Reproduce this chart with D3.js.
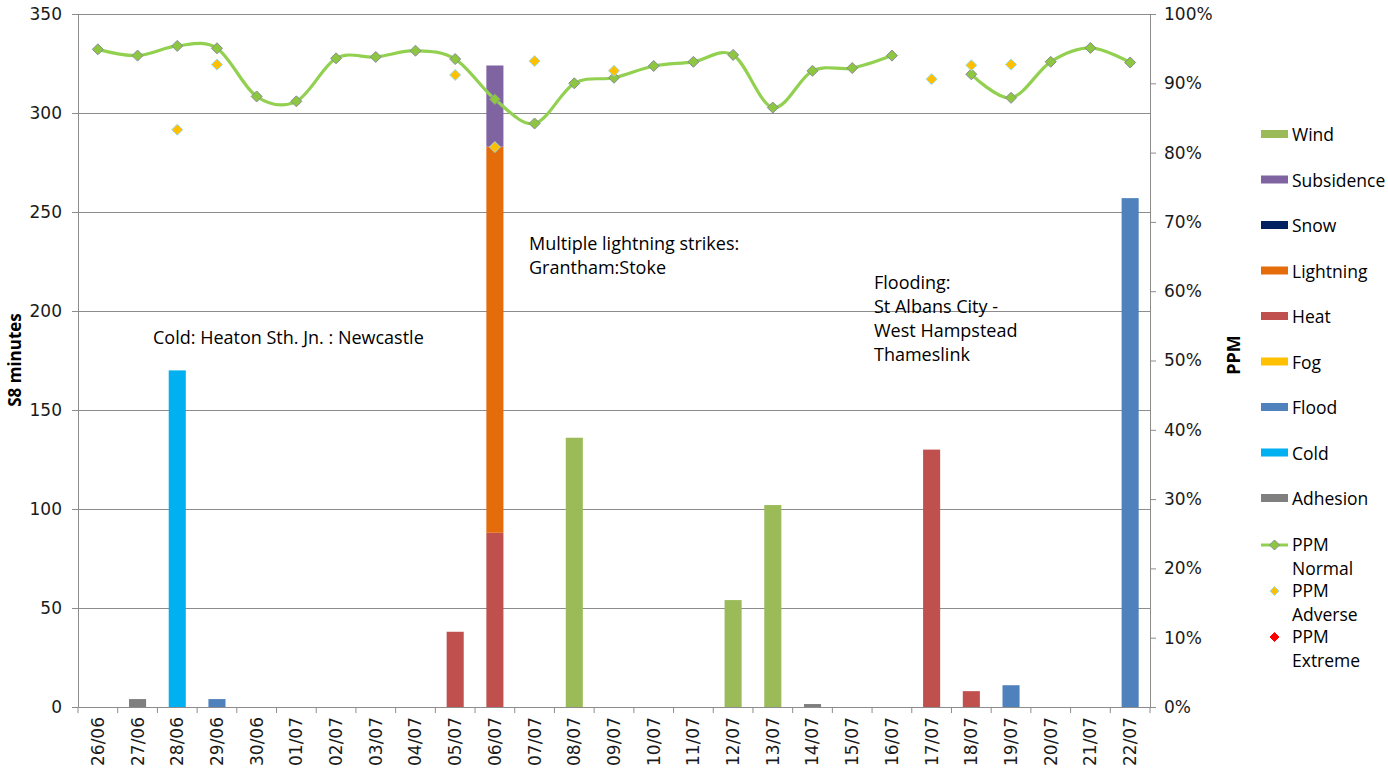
<!DOCTYPE html>
<html><head><meta charset="utf-8">
<script src="https://cdn.jsdelivr.net/npm/d3@7/dist/d3.min.js"></script>
<style>body{margin:0;background:#fff}svg{display:block}</style>
</head><body>
<svg id="c" width="1388" height="773"></svg>
<script>
const dates = ["26/06","27/06","28/06","29/06","30/06","01/07","02/07","03/07","04/07","05/07","06/07","07/07","08/07","09/07","10/07","11/07","12/07","13/07","14/07","15/07","16/07","17/07","18/07","19/07","20/07","21/07","22/07"];
const adhesion   = [0,4,0,0,0,0,0,0,0,0,0,0,0,0,0,0,0,0,1.5,0,0,0,0,0,0,0,0];
const cold       = [0,0,170,0,0,0,0,0,0,0,0,0,0,0,0,0,0,0,0,0,0,0,0,0,0,0,0];
const flood      = [0,0,0,4,0,0,0,0,0,0,0,0,0,0,0,0,0,0,0,0,0,0,0,11,0,0,257];
const fog        = [0,0,0,0,0,0,0,0,0,0,0,0,0,0,0,0,0,0,0,0,0,0,0,0,0,0,0];
const heat       = [0,0,0,0,0,0,0,0,0,38,88,0,0,0,0,0,0,0,0,0,0,130,8,0,0,0,0];
const lightning  = [0,0,0,0,0,0,0,0,0,0,195,0,0,0,0,0,0,0,0,0,0,0,0,0,0,0,0];
const snow       = [0,0,0,0,0,0,0,0,0,0,0,0,0,0,0,0,0,0,0,0,0,0,0,0,0,0,0];
const subsidence = [0,0,0,0,0,0,0,0,0,0,41,0,0,0,0,0,0,0,0,0,0,0,0,0,0,0,0];
const wind       = [0,0,0,0,0,0,0,0,0,0,0,0,136,0,0,0,54,102,0,0,0,0,0,0,0,0,0];
const ppmNormal  = [94.9,94.0,95.4,95.05,88.1,87.4,93.6,93.8,94.7,93.5,87.7,84.2,90.0,90.8,92.5,93.1,94.1,86.5,91.8,92.2,94.0,null,91.3,87.9,93.1,95.1,93.0];
const ppmAdverse = [null,null,83.3,92.7,null,null,null,null,null,91.2,80.8,93.2,null,91.8,null,null,null,null,null,null,null,90.6,92.6,92.7,null,null,null];
const ppmExtreme = dates.map(()=>null);
const leftTicks = [0,50,100,150,200,250,300,350];
const rightTicks = [0,10,20,30,40,50,60,70,80,90,100];

const seriesNames = ["Adhesion","Cold","Flood","Fog","Heat","Lightning","Snow","Subsidence","Wind"];
const seriesData = [adhesion,cold,flood,fog,heat,lightning,snow,subsidence,wind];
const colors = {Adhesion:"#7F7F7F",Cold:"#00B0F0",Flood:"#4F81BD",Fog:"#FFC000",Heat:"#C0504D",Lightning:"#E46C0A",Snow:"#002060",Subsidence:"#8064A2",Wind:"#9BBB59"};

const svg = d3.select("#c");
const L=78, R=1150, T=14, B=707;
const x = d3.scaleBand().domain(dates).range([L,R]);
const yL = d3.scaleLinear().domain([0,350]).range([B,T]);
const yR = d3.scaleLinear().domain([0,100]).range([B,T]);
const tickFont = "'DejaVu Sans', Verdana, sans-serif";
const textFont = "'Open Sans', Lato, sans-serif";
const gridCol = "#8c8c8c";

// gridlines
svg.append("g").selectAll("line").data(leftTicks.filter(d=>d>0)).join("line")
  .attr("x1",L).attr("x2",R).attr("y1",d=>yL(d)).attr("y2",d=>yL(d))
  .attr("stroke",gridCol).attr("stroke-width",1).attr("shape-rendering","crispEdges");

// bars
const table = dates.map((d,i)=>{const o={date:d}; seriesNames.forEach((s,k)=>o[s]=seriesData[k][i]); return o;});
const stack = d3.stack().keys(seriesNames)(table);
const bw = x.bandwidth()*0.43;
svg.append("g").selectAll("g").data(stack).join("g").attr("fill",s=>colors[s.key])
  .selectAll("rect").data(s=>s.filter(p=>p[1]-p[0]>0)).join("rect")
  .attr("x",p=>x(p.data.date)+(x.bandwidth()-bw)/2).attr("width",bw)
  .attr("y",p=>yL(p[1])).attr("height",p=>yL(p[0])-yL(p[1]));

// left axis
const gl = svg.append("g").attr("transform",`translate(${L},0)`)
  .call(d3.axisLeft(yL).tickValues(leftTicks).tickSize(6).tickPadding(10));
// right axis
const gr = svg.append("g").attr("transform",`translate(${R},0)`)
  .call(d3.axisRight(yR).tickValues(rightTicks).tickSize(6).tickPadding(8).tickFormat(d=>d+"%"));
// bottom axis
const gb = svg.append("g").attr("transform",`translate(0,${B})`)
  .call(d3.axisBottom(x).tickSize(0).tickPadding(10));
[gl,gr,gb].forEach(g=>{
  g.select(".domain").attr("stroke",gridCol);
  g.selectAll(".tick line").attr("stroke",gridCol);
  g.selectAll("text").attr("font-family",tickFont).attr("font-size",17).attr("fill","#1a1a1a");
});
gb.selectAll(".tick text").attr("transform","rotate(-90)").attr("text-anchor","end")
  .attr("dx","0").attr("dy","0.35em").attr("x",-10).attr("y",0);
// category boundary ticks
svg.append("g").selectAll("line").data(dates.concat(["__end"])).join("line")
  .attr("x1",d=>d==="__end"?R:x(d)).attr("x2",d=>d==="__end"?R:x(d))
  .attr("y1",B).attr("y2",B+6).attr("stroke",gridCol);

// PPM line
const line = d3.line().defined(d=>d!==null).x((d,i)=>x(dates[i])+x.bandwidth()/2).y(d=>yR(d))
  .curve(d3.curveCardinal.tension(0));
svg.append("path").datum(ppmNormal).attr("d",line).attr("fill","none")
  .attr("stroke","#92D050").attr("stroke-width",3.2);
const diamond = r=>`M0,${-r}L${r},0L0,${r}L${-r},0Z`;
function markers(data, fill, stroke){
  svg.append("g").selectAll("path").data(data.map((v,i)=>({v,i})).filter(d=>d.v!==null)).join("path")
    .attr("d",diamond(5.5)).attr("transform",d=>`translate(${x(dates[d.i])+x.bandwidth()/2},${yR(d.v)})`)
    .attr("fill",fill).attr("stroke",stroke).attr("stroke-width",1);
}
markers(ppmNormal,"#8DC63F","#8a8a9a");
markers(ppmAdverse,"#FFC000","#9DD9E8");
markers(ppmExtreme,"#FF0000","#FF0000");

// axis titles
svg.append("text").attr("transform","translate(21,360) rotate(-90)").attr("text-anchor","middle")
  .attr("font-family",textFont).attr("font-weight","bold").attr("font-size",17).text("S8 minutes");
svg.append("text").attr("transform","translate(1240,355) rotate(-90)").attr("text-anchor","middle")
  .attr("font-family",textFont).attr("font-weight","bold").attr("font-size",18).text("PPM");

// annotations
const notes = [
  {x:153,y:344,lines:["Cold: Heaton Sth. Jn. : Newcastle"]},
  {x:529,y:250,lines:["Multiple lightning strikes:","Grantham:Stoke"]},
  {x:874,y:289,lines:["Flooding:","St Albans City -","West Hampstead","Thameslink"]}
];
notes.forEach(n=>{
  const t = svg.append("text").attr("font-family",textFont).attr("font-size",18).attr("fill","#000");
  n.lines.forEach((l,i)=>t.append("tspan").attr("x",n.x).attr("y",n.y+i*24).text(l));
});

// legend
const legendOrder = ["Wind","Subsidence","Snow","Lightning","Heat","Fog","Flood","Cold","Adhesion"];
const lg = svg.append("g");
legendOrder.forEach((k,i)=>{
  const cy = 135 + i*45.5;
  lg.append("rect").attr("x",1261).attr("y",cy-5).attr("width",27).attr("height",8).attr("fill",colors[k]);
  lg.append("text").attr("x",1292).attr("y",cy+6).attr("font-family",textFont).attr("font-size",17.5).text(k);
});
const ppmLeg = [
  {name:["PPM","Normal"],y:545,type:"line",fill:"#8DC63F",stroke:"#8a8a9a"},
  {name:["PPM","Adverse"],y:591,type:"pt",fill:"#FFC000",stroke:"#9DD9E8"},
  {name:["PPM","Extreme"],y:637,type:"pt",fill:"#FF0000",stroke:"#FF0000"}
];
ppmLeg.forEach(p=>{
  if(p.type==="line") lg.append("line").attr("x1",1261).attr("x2",1288).attr("y1",p.y).attr("y2",p.y).attr("stroke","#92D050").attr("stroke-width",3);
  lg.append("path").attr("d",diamond(p.type==="line"?5:4.5)).attr("transform",`translate(1274.5,${p.y})`).attr("fill",p.fill).attr("stroke",p.stroke);
  const t = lg.append("text").attr("font-family",textFont).attr("font-size",17.5);
  t.append("tspan").attr("x",1292).attr("y",p.y+6).text(p.name[0]);
  t.append("tspan").attr("x",1292).attr("y",p.y+30).text(p.name[1]);
});
</script>
</body></html>
